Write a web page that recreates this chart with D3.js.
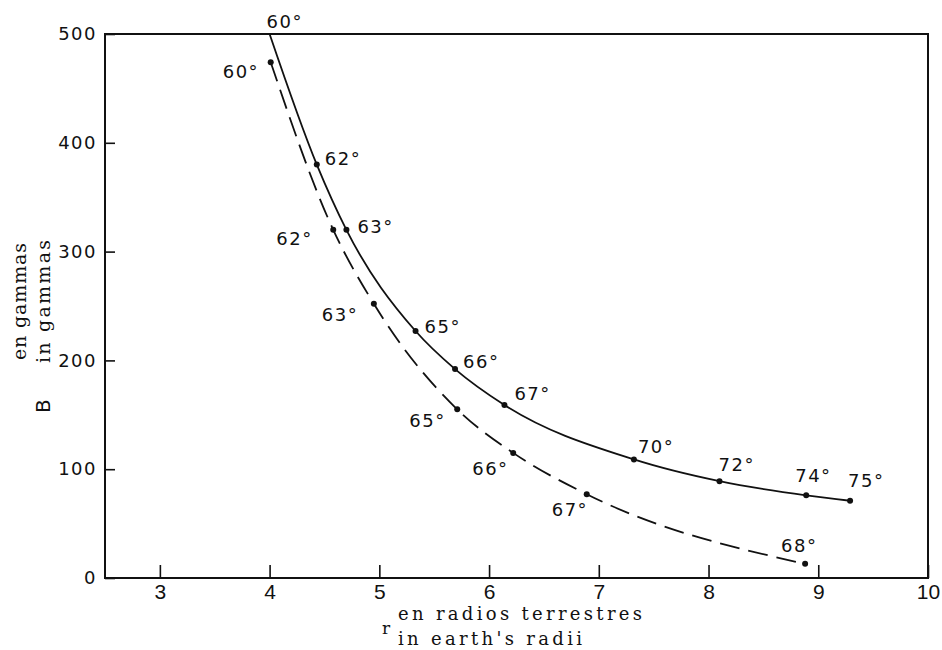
<!DOCTYPE html>
<html>
<head>
<meta charset="utf-8">
<script src="https://cdn.jsdelivr.net/npm/d3@7"></script>
<style>
  body { margin: 0; background: #fff; }
  svg { display: block; }
</style>
</head>
<body>
<script>
// solid curve: r (earth radii), B (gammas), latitude label
const solidR   = [4.00, 4.43, 4.70, 5.33, 5.69, 6.14, 7.32, 8.10, 8.89, 9.29];
const solidB   = [500, 380, 320, 227, 192, 159, 109, 89, 76, 71];
const solidLat = [60, 62, 63, 65, 66, 67, 70, 72, 74, 75];

// dashed curve
const dashedR   = [4.01, 4.58, 4.95, 5.71, 6.22, 6.89, 8.88];
const dashedB   = [474, 320, 252, 155, 115, 77, 13];
const dashedLat = [60, 62, 63, 65, 66, 67, 68];

const xTicks = [3, 4, 5, 6, 7, 8, 9, 10];
const yTicks = [0, 100, 200, 300, 400, 500];

// where each label sits relative to its dot (px)
const solidLabelOff  = [[-3,-6],[8,0],[11,3],[9,2],[8,-1],[10,-5],[4,-6],[-1,-10],[-11,-13],[-2,-14]];
const dashedLabelOff = [[-48,16],[-57,15],[-52,17],[-48,18],[-41,22],[-35,22],[-24,-12]];

function main() {
  const width = 942, height = 650;
  const left = 105, right = 928, top = 34, bottom = 578;
  const ink = "#111";

  const svg = d3.select("body")
    .append("svg")
    .attr("width", width)
    .attr("height", height);

  const x = d3.scaleLinear().domain([2.5, 10]).range([left, right]);
  const y = d3.scaleLinear().domain([0, 500]).range([bottom, top]);

  const solid = solidR.map((r, i) => ({r, b: solidB[i], lat: solidLat[i], off: solidLabelOff[i]}));
  const dashed = dashedR.map((r, i) => ({r, b: dashedB[i], lat: dashedLat[i], off: dashedLabelOff[i]}));

  // frame
  svg.append("rect")
    .attr("x", left).attr("y", top)
    .attr("width", right - left).attr("height", bottom - top)
    .attr("fill", "none")
    .attr("stroke", ink)
    .attr("stroke-width", 2);

  const yAxis = svg.append("g")
    .attr("transform", `translate(${left},0)`)
    .call(d3.axisLeft(y).tickValues(yTicks).tickSizeInner(-10).tickSizeOuter(0).tickPadding(8));
  yAxis.select(".domain").remove();
  yAxis.selectAll(".tick line").attr("stroke", ink).attr("stroke-width", 1.6);
  yAxis.selectAll("text")
    .attr("fill", ink)
    .style("font-family", "'DejaVu Sans', sans-serif")
    .style("font-size", "18px")
    .style("letter-spacing", "1.5px");

  const xAxis = svg.append("g")
    .attr("transform", `translate(0,${bottom})`)
    .call(d3.axisBottom(x).tickValues(xTicks).tickSizeInner(-13).tickSizeOuter(0).tickPadding(6));
  xAxis.select(".domain").remove();
  xAxis.selectAll(".tick line").attr("stroke", ink).attr("stroke-width", 1.6);
  xAxis.selectAll("text")
    .attr("fill", ink)
    .style("font-family", "'Liberation Sans', sans-serif")
    .style("font-size", "21px");

  const line = d3.line()
    .x(d => x(d.r))
    .y(d => y(d.b))
    .curve(d3.curveMonotoneX);

  svg.append("path")
    .datum(solid)
    .attr("d", line)
    .attr("fill", "none")
    .attr("stroke", ink)
    .attr("stroke-width", 1.8);

  svg.append("path")
    .datum(dashed)
    .attr("d", line)
    .attr("fill", "none")
    .attr("stroke", ink)
    .attr("stroke-width", 1.8)
    .attr("stroke-dasharray", "20,9");

  for (const series of [solid, dashed]) {
    const g = svg.append("g");
    // the point sitting on the top frame shows no dot in the original
    g.selectAll("circle")
      .data(series.filter(d => d.b < 500))
      .join("circle")
        .attr("cx", d => x(d.r))
        .attr("cy", d => y(d.b))
        .attr("r", 3)
        .attr("fill", ink);
    g.selectAll("text")
      .data(series)
      .join("text")
        .attr("x", d => x(d.r) + d.off[0])
        .attr("y", d => y(d.b) + d.off[1])
        .attr("fill", ink)
        .style("font-family", "'DejaVu Sans', sans-serif")
        .style("font-size", "18px")
        .style("letter-spacing", "1.5px")
        .text(d => d.lat + "°");
  }

  // axis titles
  const serif = "'DejaVu Serif', serif";

  svg.append("text")
    .attr("x", 382).attr("y", 634)
    .style("font-family", serif).style("font-size", "17px")
    .attr("fill", ink)
    .text("r");

  svg.append("text")
    .attr("x", 398).attr("y", 620)
    .attr("textLength", 244).attr("lengthAdjust", "spacing")
    .style("font-family", serif).style("font-size", "18px")
    .attr("fill", ink)
    .text("en radios terrestres");

  svg.append("text")
    .attr("x", 398).attr("y", 645)
    .attr("textLength", 184).attr("lengthAdjust", "spacing")
    .style("font-family", serif).style("font-size", "18px")
    .attr("fill", ink)
    .text("in earth's radii");

  svg.append("text")
    .attr("transform", "translate(26,360) rotate(-90)")
    .attr("textLength", 117).attr("lengthAdjust", "spacing")
    .style("font-family", serif).style("font-size", "19px")
    .attr("fill", ink)
    .text("en gammas");

  svg.append("text")
    .attr("transform", "translate(50,363) rotate(-90)")
    .attr("textLength", 123).attr("lengthAdjust", "spacing")
    .style("font-family", serif).style("font-size", "19px")
    .attr("fill", ink)
    .text("in gammas");

  svg.append("text")
    .attr("transform", "translate(50,413) rotate(-90)")
    .style("font-family", "'DejaVu Sans', sans-serif").style("font-size", "20px")
    .attr("fill", ink)
    .text("B");
}

window.addEventListener("load", main);
</script>
</body>
</html>
